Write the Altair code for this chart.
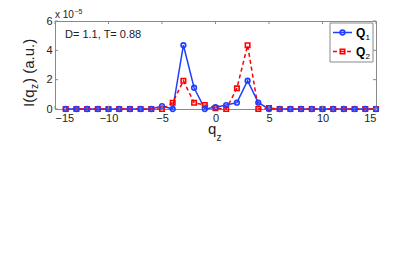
import altair as alt
import pandas as pd

# ---- data (values in units of 1e-5) ----
qz = list(range(-14, 16))
q1 = [0, 0, 0, 0, 0, 0, 0, 0, 0,        # -14..-6
      0.2, 0.0, 4.35, 1.45, 0.0, 0.12, 0.27, 0.43, 1.93, 0.43, 0.0,   # -5..5
      0, 0, 0, 0, 0, 0, 0, 0, 0, 0]     # 6..15
q2 = [0, 0, 0, 0, 0, 0, 0, 0, 0,
      0.0, 0.43, 1.93, 0.43, 0.27, 0.06, 0.0, 1.41, 4.35, 0.0, 0.06,
      0, 0, 0, 0, 0, 0, 0, 0, 0, 0]
x_ticks = [-15, -10, -5, 0, 5, 10, 15]
y_ticks = [0, 2, 4, 6]

BLUE = "#1f3fff"
RED = "#ff0000"
GREY = "#8a8a8a"
FONT = "Liberation Sans"
W, H = 321, 88

df1 = pd.DataFrame({"q": qz, "I": q1})
df2 = pd.DataFrame({"q": qz, "I": q2})

xs = alt.Scale(domain=[-15, 15], nice=False)
ys = alt.Scale(domain=[0, 6], nice=False)

axx = alt.Axis(values=x_ticks, title=None, grid=False, domain=False,
               tickSize=0, labelPadding=3, labelFontSize=11,
               labelFont=FONT, labelColor="#222", labelOverlap=False)
axy = alt.Axis(values=y_ticks, title=None, grid=False, domain=False,
               tickSize=0, labelPadding=3, labelFontSize=11,
               labelFont=FONT, labelColor="#222", format="d",
               labelOverlap=False)
xe = alt.X("q:Q", scale=xs, axis=axx)
ye = alt.Y("I:Q", scale=ys, axis=axy)

line1 = alt.Chart(df1).mark_line(color=BLUE, strokeWidth=1.5).encode(x=xe, y=ye)
pts1 = alt.Chart(df1).mark_point(shape="circle", color=BLUE, filled=False,
                                 size=22, strokeWidth=1.6, opacity=1).encode(x=xe, y=ye)
line2 = alt.Chart(df2).mark_line(color=RED, strokeWidth=1.5, strokeDash=[4, 3]).encode(x=xe, y=ye)
pts2 = alt.Chart(df2).mark_point(shape="square", color=RED, filled=False,
                                 size=20, strokeWidth=1.6, opacity=1).encode(x=xe, y=ye)

# inward ticks
dxt = pd.DataFrame({"q": x_ticks})
dyt = pd.DataFrame({"I": y_ticks})
tick_b = alt.Chart(dxt).mark_rule(color=GREY).encode(x=xe, y=alt.value(H), y2=alt.value(H - 3))
tick_t = alt.Chart(dxt).mark_rule(color=GREY).encode(x=xe, y=alt.value(0), y2=alt.value(3))
tick_l = alt.Chart(dyt).mark_rule(color=GREY).encode(y=ye, x=alt.value(0), x2=alt.value(3))
tick_r = alt.Chart(dyt).mark_rule(color=GREY).encode(y=ye, x=alt.value(W), x2=alt.value(W - 3))

one = alt.Data(values=[{}])


def txt(s, x, y, size, angle=0, weight="normal", align="left", baseline="alphabetic", color="#222"):
    kw = dict(text=s, font=FONT, fontSize=size, fontWeight=weight, align=align,
              baseline=baseline, color=color)
    if angle:
        kw["angle"] = angle
    return alt.Chart(one).mark_text(**kw).encode(x=alt.value(x), y=alt.value(y))


# axis titles with subscripts
ytitle = [txt("I(q", -21, 86, 15, angle=270),
          txt("z", -17, 68, 10, angle=270),
          txt(") (a.u.)", -21, 62, 15, angle=270)]
xtitle = [txt("q", 153, 113, 15), txt("z", 161.5, 120, 10)]
annot = [txt("D= 1.1, T= 0.88", 10, 14, 11, baseline="middle"),
         txt("x 10", 0, -3, 10), txt("\u22125", 19.5, -7, 7)]

# legend
leg_box = alt.Chart(one).mark_rect(fill="white", stroke=GREY, strokeWidth=1).encode(
    x=alt.value(275), x2=alt.value(318), y=alt.value(2), y2=alt.value(41))
leg_l1 = alt.Chart(one).mark_rule(color=BLUE, strokeWidth=1.5).encode(
    x=alt.value(278), x2=alt.value(297), y=alt.value(11.5))
leg_p1 = alt.Chart(one).mark_point(shape="circle", color=BLUE, filled=False, size=22,
                                   strokeWidth=1.6, opacity=1).encode(x=alt.value(287.5), y=alt.value(11.5))
leg_l2 = alt.Chart(one).mark_rule(color=RED, strokeWidth=1.5, strokeDash=[4, 3]).encode(
    x=alt.value(278), x2=alt.value(297), y=alt.value(30.5))
leg_p2 = alt.Chart(one).mark_point(shape="square", color=RED, filled=False, size=20,
                                   strokeWidth=1.6, opacity=1).encode(x=alt.value(287.5), y=alt.value(30.5))
leg_t = [txt("Q", 301, 15.5, 12, weight="bold", color="#000"), txt("1", 310.5, 19, 8, color="#000"),
         txt("Q", 301, 34.5, 12, weight="bold", color="#000"), txt("2", 310.5, 38, 8, color="#000")]

chart = alt.layer(
    line1, line2, pts2, pts1, tick_b, tick_t, tick_l, tick_r,
    *ytitle, *xtitle, *annot,
    leg_box, leg_l1, leg_p1, leg_l2, leg_p2, *leg_t
).properties(
    width=W, height=H,
    autosize=alt.AutoSizeParams(type="none"),
    padding={"left": 47, "top": 13, "right": 31, "bottom": 162},
    background="white",
).configure_view(stroke=GREY, strokeWidth=1)

chart.save("out.html", embed_options={"renderer": "svg", "actions": False})
